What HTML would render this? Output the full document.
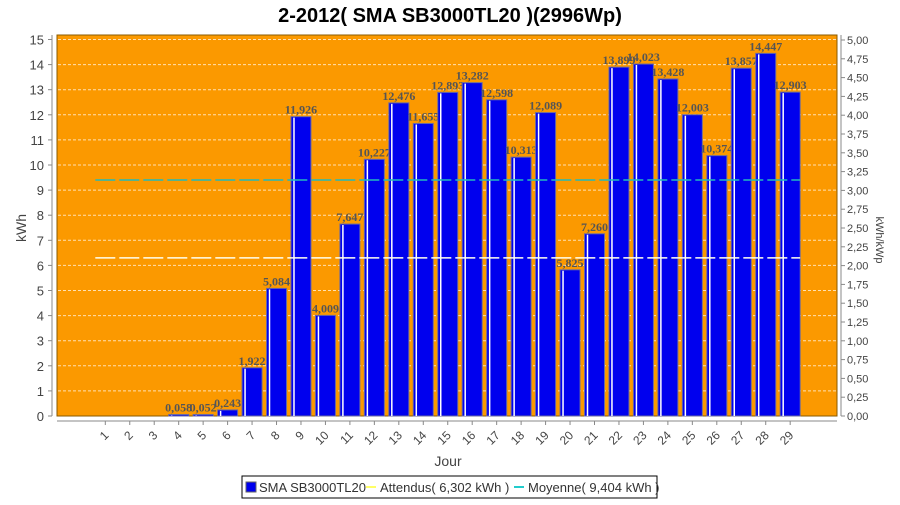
<!DOCTYPE html>
<html><head><meta charset="utf-8"><style>
body{margin:0;background:#fff;width:900px;height:500px;overflow:hidden;font-family:"Liberation Sans",sans-serif}
</style></head><body>
<svg id="chart" width="900" height="500" xmlns="http://www.w3.org/2000/svg" font-family="Liberation Sans, DejaVu Sans, sans-serif">
<text x="450" y="22" text-anchor="middle" font-size="20" font-weight="bold" fill="#000">2-2012( SMA SB3000TL20 )(2996Wp)</text>
<rect x="57" y="35" width="780" height="381" fill="#fb9900" stroke="#8a5a00" stroke-width="1"/>
<g id="grid"></g>
<g id="bars"></g>
<g id="lines"></g>
<g id="axes"></g>
<text transform="translate(26,228) rotate(-90)" text-anchor="middle" font-size="14" fill="#444">kWh</text>
<text transform="translate(876,240) rotate(90)" text-anchor="middle" font-size="11" fill="#444">kWh/kWp</text>
<text x="448" y="466" text-anchor="middle" font-size="14" fill="#444">Jour</text>
<g>
<rect x="242" y="476" width="415" height="22" fill="#fff" stroke="#000" stroke-width="1"/>
<rect x="246" y="482" width="10" height="10" fill="#0000ee" stroke="#666"/>
<text x="259" y="492" font-size="13" fill="#333">SMA SB3000TL20</text>
<line x1="366" y1="487" x2="376" y2="487" stroke="#ffff66" stroke-width="2"/>
<text x="380" y="492" font-size="13" fill="#333">Attendus( 6,302 kWh )</text>
<line x1="514" y1="487" x2="524" y2="487" stroke="#22cccc" stroke-width="2"/>
<text x="528" y="492" font-size="13" fill="#333">Moyenne( 9,404 kWh )</text>
</g>
</svg>
<script>
const days=[1,2,3,4,5,6,7,8,9,10,11,12,13,14,15,16,17,18,19,20,21,22,23,24,25,26,27,28,29];
const production=[0,0,0,0.058,0.052,0.243,1.922,5.084,11.926,4.009,7.647,10.227,12.476,11.655,12.893,13.282,12.598,10.313,12.089,5.825,7.260,13.899,14.023,13.428,12.003,10.374,13.857,14.447,12.903];
const yTicks=[0,1,2,3,4,5,6,7,8,9,10,11,12,13,14,15];
const y2Ticks=["0,00","0,25","0,50","0,75","1,00","1,25","1,50","1,75","2,00","2,25","2,50","2,75","3,00","3,25","3,50","3,75","4,00","4,25","4,50","4,75","5,00"];
const expected=6.302;
const average=9.404;
const kWp=2.996;
const NS="http://www.w3.org/2000/svg";
const y=v=>416-v*25.1;
const x=d=>105.3+(d-1)*24.46;
function mk(tag,attrs,parent,txt){const e=document.createElementNS(NS,tag);for(const k in attrs)e.setAttribute(k,attrs[k]);if(txt!==undefined)e.textContent=txt;parent.appendChild(e);return e;}
const grid=document.getElementById('grid'),axes=document.getElementById('axes'),bars=document.getElementById('bars'),lines=document.getElementById('lines');
yTicks.forEach(t=>{
 if(t>0){const g=mk('line',{x1:58,x2:836,y1:y(t),y2:y(t),stroke:'#ffe0b0','stroke-dasharray':'3,2','stroke-width':1},grid);
 
 }
 mk('line',{x1:48,x2:52,y1:y(t),y2:y(t),stroke:'#888'},axes);
 const l=mk('text',{x:44,y:y(t)+5,'text-anchor':'end','font-size':13,fill:'#444'},axes,String(t));
 
 
});
mk('line',{x1:52,x2:52,y1:35,y2:416,stroke:'#888'},axes);
y2Ticks.forEach((t,i)=>{
 const v=i*0.25*kWp;const yy=y(v);
 mk('line',{x1:841,x2:845,y1:yy,y2:yy,stroke:'#888'},axes);
 const l=mk('text',{x:847,y:yy+4,'font-size':11,fill:'#444'},axes,t);
 
 
});
mk('line',{x1:841,x2:841,y1:35,y2:416,stroke:'#888'},axes);
mk('line',{x1:57,x2:837,y1:421,y2:421,stroke:'#888'},axes);
days.forEach((d,i)=>{
 const cx=x(d);
 mk('line',{x1:cx,x2:cx,y1:421,y2:425,stroke:'#888'},axes);
 const l=mk('text',{transform:`translate(${cx+4},${436}) rotate(-45)`,'text-anchor':'end','font-size':12,fill:'#444'},axes,String(d));
 
 
 const v=production[i];
 if(v>0){
  const top=y(v);const h=Math.max(416-top,1.5);
  const b=mk('rect',{x:cx-10,y:416-h,width:20,height:h,fill:'#0000ee',stroke:'#6a6aa0','stroke-width':1},bars);
  
  
  mk('line',{x1:cx-7,x2:cx-7,y1:416-h+1,y2:416,stroke:'#fff','stroke-width':1.5},bars);
  const lb=mk('text',{x:cx,y:416-h-3,'text-anchor':'middle','font-size':12,'font-weight':'bold','font-family':'Liberation Serif, serif',fill:'#555'},bars,v.toFixed(3).replace('.',','));
  
  
 }
});
const x0=x(days[0])-10,x1=x(days[days.length-1])+10;
const la=mk('line',{x1:x0,x2:x1,y1:y(expected),y2:y(expected),stroke:'#ffffee','stroke-width':1.5,'stroke-dasharray':'20,4'},lines);


const lm=mk('line',{x1:x0,x2:x1,y1:y(average),y2:y(average),stroke:'#22bbbb','stroke-width':1.5,'stroke-dasharray':'20,4'},lines);


</script>
</body></html>
